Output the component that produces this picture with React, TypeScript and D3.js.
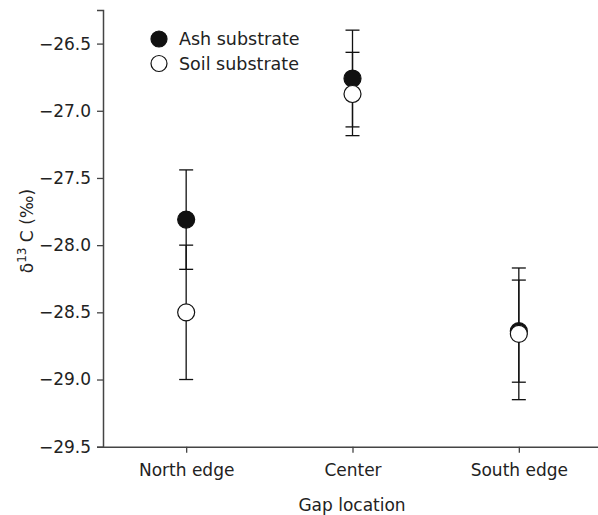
import React, { useEffect, useRef } from "react";
import { select, scalePoint, scaleLinear, axisLeft, axisBottom, range, format } from "d3";

const categories = ["North edge", "Center", "South edge"];
const ashMean = [-27.81, -26.76, -28.64];
const ashErr = [0.37, 0.36, 0.38];
const soilMean = [-28.5, -26.875, -28.66];
const soilErr = [0.5, 0.31, 0.49];
const yTicks = range(-29.5, -26.4, 0.5);

const width = 598;
const height = 515;
const font = "'DejaVu Sans', sans-serif";

const App = () => {
  const svgRef = useRef<SVGSVGElement>(null);

  useEffect(() => {
    const svg = select(svgRef.current);
    svg.selectAll("*").remove();

    // scales
    const xScale = scalePoint().domain(categories).range([103, 602]).padding(0.5);
    const yScale = scaleLinear().domain([-29.5, -26.25]).range([446.7, 10]);

    // axes
    const yAxis = axisLeft(yScale).tickValues(yTicks).tickFormat(format(".1f")).tickSize(6).tickPadding(6);
    const gy = svg.append("g").attr("transform", "translate(103,0)").call(yAxis);
    const xAxis = axisBottom(xScale).tickSize(6).tickPadding(11).tickSizeOuter(0);
    const gx = svg.append("g").attr("transform", "translate(0,446.7)").call(xAxis);

    [gx, gy].forEach(g => {
      g.select(".domain").attr("stroke", "#444").attr("stroke-width", 1.5);
      g.selectAll(".tick line").attr("stroke", "#444").attr("stroke-width", 1.3);
      g.selectAll(".tick text")
        .attr("fill", "#222")
        .style("font-family", font)
        .style("font-size", "17px");
    });

    // error bars
    const series = [
      { mean: ashMean, err: ashErr, fill: "#111" },
      { mean: soilMean, err: soilErr, fill: "#fff" }
    ];
    series.forEach(s => {
      const g = svg.append("g").attr("stroke", "#111").attr("stroke-width", 1.3);
      categories.forEach((c, i) => {
        const x = xScale(c)!;
        const y0 = yScale(s.mean[i] + s.err[i]);
        const y1 = yScale(s.mean[i] - s.err[i]);
        g.append("line").attr("x1", x).attr("x2", x).attr("y1", y0).attr("y2", y1);
        g.append("line").attr("x1", x - 7).attr("x2", x + 7).attr("y1", y0).attr("y2", y0);
        g.append("line").attr("x1", x - 7).attr("x2", x + 7).attr("y1", y1).attr("y2", y1);
      });
    });

    // points
    series.forEach(s => {
      svg
        .append("g")
        .selectAll("circle")
        .data(categories)
        .join("circle")
        .attr("cx", c => xScale(c)!)
        .attr("cy", (c, i) => yScale(s.mean[i]))
        .attr("r", 8.5)
        .attr("fill", s.fill)
        .attr("stroke", "#111")
        .attr("stroke-width", 1.2);
    });

    // legend
    const legend = svg.append("g").attr("transform", "translate(159,39)");
    [["Ash substrate", "#111"], ["Soil substrate", "#fff"]].forEach(([label, fill], i) => {
      legend
        .append("circle")
        .attr("cx", 0)
        .attr("cy", i * 24.5)
        .attr("r", 8)
        .attr("fill", fill)
        .attr("stroke", "#111")
        .attr("stroke-width", 1.2);
      legend
        .append("text")
        .attr("x", 20)
        .attr("y", i * 24.5 + 6)
        .attr("fill", "#222")
        .style("font-family", font)
        .style("font-size", "17.5px")
        .text(label);
    });

    // axis titles
    svg
      .append("text")
      .attr("x", 352)
      .attr("y", 511)
      .attr("text-anchor", "middle")
      .attr("fill", "#222")
      .style("font-family", font)
      .style("font-size", "17px")
      .text("Gap location");

    const yl = svg
      .append("text")
      .attr("transform", "translate(33,231) rotate(-90)")
      .attr("text-anchor", "middle")
      .attr("fill", "#222")
      .style("font-family", font)
      .style("font-size", "17px");
    yl.append("tspan").text("δ");
    yl.append("tspan").attr("dy", -7).style("font-size", "12px").text("13");
    yl.append("tspan").attr("dy", 7).text(" C (‰)");
  }, []);

  return (
    <svg
      ref={svgRef}
      width={width}
      height={height}
      style={{ position: "absolute", left: 0, top: 0, background: "#fff" }}
    />
  );
};

export default App;
